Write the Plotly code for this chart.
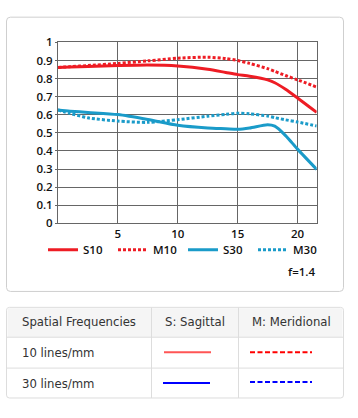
import plotly.graph_objects as go

# ---- data (image height in mm vs contrast) ----
x_mm = [0, 1, 2.5, 5, 7.5, 10, 12.5, 14, 15, 16, 17.5, 18.1, 19, 20, 21.6]
s10 = [0.862, 0.864, 0.867, 0.872, 0.875, 0.870, 0.852, 0.834, 0.822, 0.813, 0.793, 0.777, 0.741, 0.693, 0.613]
m10 = [0.862, 0.866, 0.872, 0.884, 0.898, 0.913, 0.918, 0.911, 0.900, 0.884, 0.855, 0.840, 0.817, 0.793, 0.753]
s30 = [0.626, 0.620, 0.613, 0.601, 0.574, 0.542, 0.527, 0.523, 0.520, 0.527, 0.545, 0.537, 0.485, 0.410, 0.298]
m30 = [0.626, 0.608, 0.583, 0.565, 0.558, 0.573, 0.592, 0.602, 0.609, 0.605, 0.593, 0.584, 0.572, 0.560, 0.538]

x_ticks = [5, 10, 15, 20]
y_ticks = [0, 0.1, 0.2, 0.3, 0.4, 0.5, 0.6, 0.7, 0.8, 0.9, 1]
y_ticktext = ["0", "0.1", "0.2", "0.3", "0.4", "0.5", "0.6", "0.7", "0.8", "0.9", "1"]

series_names = ["S10", "M10", "S30", "M30"]
aperture_label = "f=1.4"

table_header = ["Spatial Frequencies", "S: Sagittal", "M: Meridional"]
table_rows = ["10 lines/mm", "30 lines/mm"]

# ---- layout helpers ----
W, H = 358, 418
def X(px):
    return px / W
def Y(py):
    return 1 - py / H

RED = "#ee1c24"
BLUE = "#1a9bc9"
GRID = "#666666"
FONT = "Open Sans"

fig = go.Figure()
styles = [(s10, RED, "solid"), (m10, RED, "3px,2px"), (s30, BLUE, "solid"), (m30, BLUE, "3px,2px")]
for name, (vals, col, dash) in zip(series_names, styles):
    fig.add_trace(go.Scatter(
        x=x_mm, y=vals, name=name, mode="lines",
        line=dict(color=col, width=3, dash=dash, shape="spline", smoothing=0.7),
        hoverinfo="skip",
    ))

shapes = []
def rrect(x0, y0, x1, y1, r):
    return (f"M{X(x0+r)},{Y(y0)} L{X(x1-r)},{Y(y0)} Q{X(x1)},{Y(y0)} {X(x1)},{Y(y0+r)} "
            f"L{X(x1)},{Y(y1-r)} Q{X(x1)},{Y(y1)} {X(x1-r)},{Y(y1)} "
            f"L{X(x0+r)},{Y(y1)} Q{X(x0)},{Y(y1)} {X(x0)},{Y(y1-r)} "
            f"L{X(x0)},{Y(y0+r)} Q{X(x0)},{Y(y0)} {X(x0+r)},{Y(y0)} Z")
# card around chart
shapes.append(dict(type="path", xref="paper", yref="paper", path=rrect(6.5, 9.5, 343.5, 294, 4),
                   line=dict(color="#cfcfcf", width=1), fillcolor="rgba(0,0,0,0)", layer="below"))

# table
t_left, t_right = 6.5, 343.5
t_top, t_h1, t_r1, t_bot = 310.5, 341.5, 373.5, 404.5
c1, c2 = 151.5, 238.5
shapes.append(dict(type="path", xref="paper", yref="paper", path=rrect(t_left, t_top, t_right, t_bot, 3),
                   line=dict(color="#dddddd", width=1), fillcolor="white", layer="below"))
shapes.append(dict(type="rect", xref="paper", yref="paper", x0=X(t_left + 1), x1=X(t_right - 1),
                   y0=Y(t_top + 1), y1=Y(t_h1), line=dict(width=0), fillcolor="#f5f5f5", layer="below"))
for yy in (t_h1, t_r1):
    shapes.append(dict(type="line", xref="paper", yref="paper", x0=X(t_left), x1=X(t_right),
                       y0=Y(yy), y1=Y(yy), line=dict(color="#dddddd", width=1)))
for xx in (c1, c2):
    shapes.append(dict(type="line", xref="paper", yref="paper", x0=X(xx), x1=X(xx),
                       y0=Y(t_top), y1=Y(t_bot), line=dict(color="#dddddd", width=1)))
# line samples in table
samples = [
    (164, 211, 357, "#ff5555", "solid"),
    (250, 312, 357, "#ff0000", "5px,2.5px"),
    (163, 210, 389, "#0000ff", "solid"),
    (250, 312, 388, "#0000ff", "5px,2.5px"),
]
for x0, x1, yy, col, dash in samples:
    shapes.append(dict(type="line", xref="paper", yref="paper", x0=X(x0), x1=X(x1),
                       y0=Y(yy), y1=Y(yy), line=dict(color=col, width=2, dash=dash)))

annotations = []
tfont = dict(family="DejaVu Sans, Verdana, sans-serif", size=11.7, color="#333333", weight=400)
hdr_x = [19.5, 162.5, 249.5]
for txt, xx in zip(table_header, hdr_x):
    annotations.append(dict(text=txt, x=X(xx), y=Y(325.5), xref="paper", yref="paper",
                            xanchor="left", yanchor="middle", showarrow=False, font=tfont))
for txt, yy in zip(table_rows, (357.5, 389.5)):
    annotations.append(dict(text=txt, x=X(19.5), y=Y(yy), xref="paper", yref="paper",
                            xanchor="left", yanchor="middle", showarrow=False, font=tfont))
annotations.append(dict(text=aperture_label, x=X(317), y=Y(273.5), xref="paper", yref="paper",
                        xanchor="right", yanchor="middle", showarrow=False,
                        font=dict(family=FONT, size=11.5, color="#111111", weight=600)))

lfont = dict(family=FONT, size=11.5, color="#111111", weight=600)
fig.update_layout(
    width=W, height=H,
    margin=dict(l=0, r=0, t=0, b=0),
    paper_bgcolor="white", plot_bgcolor="white",
    font=lfont,
    xaxis=dict(domain=[X(58), X(316.7)], range=[0, 21.6], tickvals=x_ticks,
               showgrid=True, gridcolor=GRID, gridwidth=1, showline=True, linecolor=GRID,
               linewidth=1, mirror=True, zeroline=False, ticks="", fixedrange=True,
               tickfont=lfont),
    yaxis=dict(domain=[Y(223.3), Y(35.7)], range=[0, 1], tickvals=y_ticks, ticktext=y_ticktext,
               showgrid=True, gridcolor=GRID, gridwidth=1, showline=True, linecolor=GRID,
               linewidth=1, mirror=True, zeroline=False, ticks="outside", ticklen=2,
               tickcolor=GRID, fixedrange=True, tickfont=lfont),
    showlegend=True,
    legend=dict(orientation="h", x=X(43), y=Y(250.7), xanchor="left", yanchor="middle",
                entrywidth=25, entrywidthmode="pixels", itemwidth=30,
                bgcolor="rgba(0,0,0,0)", borderwidth=0, font=lfont),
    shapes=shapes,
    annotations=annotations,
)

fig.write_html("out.html", config={"displayModeBar": False, "staticPlot": True},
               post_script="document.body.style.margin='0';document.body.style.overflow='hidden';")
